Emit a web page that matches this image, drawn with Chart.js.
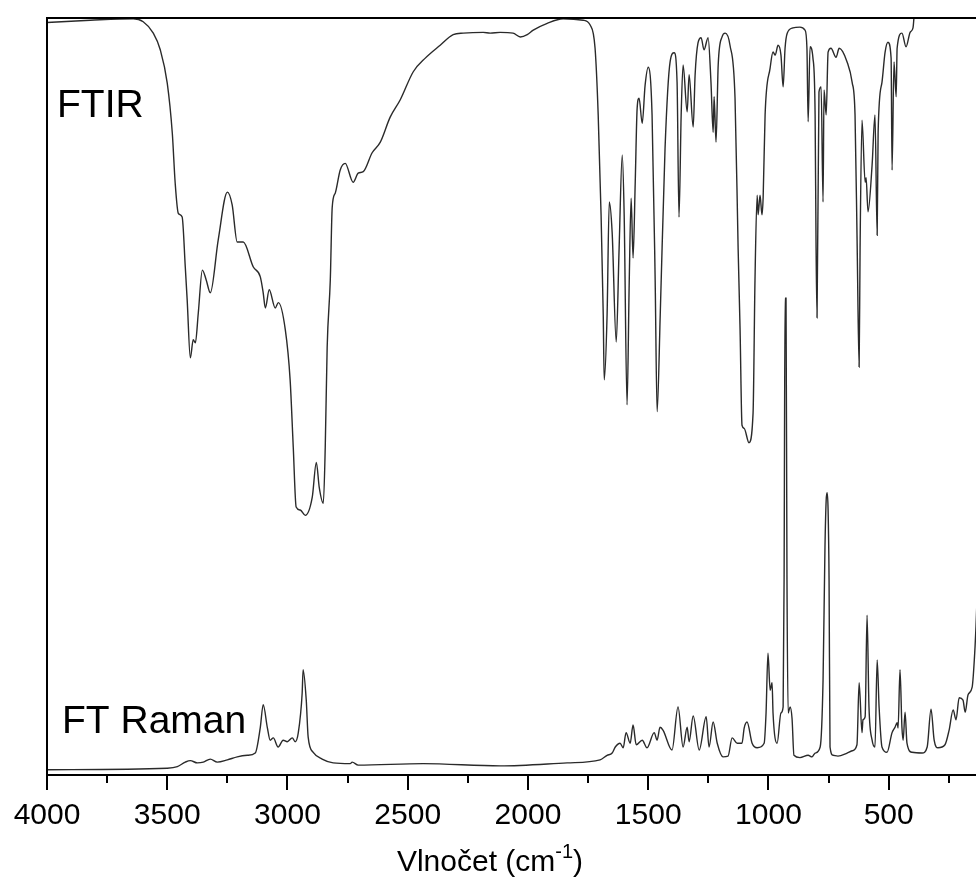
<!DOCTYPE html>
<html>
<head>
<meta charset="utf-8">
<style>
    html, body { margin: 0; padding: 0; background: #fff; }
    #spectrum { display: block; }
</style>
</head>
<body>
<canvas id="spectrum" width="976" height="896"></canvas>
<script src="https://cdn.jsdelivr.net/npm/chart.js@4.4.1/dist/chart.umd.min.js"></script>
<script>
// FTIR spectrum (wavenumber in cm-1, relative transmittance 0-100)
const ftirWavenumber = [
    4000, 3820, 3641, 3600, 3558, 3529, 3500, 3479, 3467, 3454,
    3438, 3425, 3417, 3404, 3392, 3383, 3371, 3354, 3338, 3321,
    3288, 3250, 3230, 3209, 3184, 3142, 3113, 3101, 3092, 3076,
    3051, 3038, 3009, 2989, 2976, 2964, 2947, 2926, 2897, 2880,
    2868, 2851, 2843, 2835, 2822, 2814, 2801, 2781, 2760, 2727,
    2706, 2685, 2648, 2614, 2573, 2531, 2477, 2427, 2365, 2311,
    2269, 2186, 2157, 2116, 2062, 2032, 2003, 1978, 1920, 1854,
    1770, 1742, 1721, 1708, 1696, 1687, 1683, 1671, 1662, 1650,
    1633, 1621, 1608, 1600, 1588, 1579, 1571, 1563, 1554, 1546,
    1538, 1525, 1513, 1500, 1484, 1471, 1463, 1450, 1430, 1409,
    1392, 1380, 1372, 1363, 1355, 1338, 1330, 1313, 1305, 1293,
    1280, 1268, 1251, 1239, 1230, 1226, 1218, 1209, 1193, 1180,
    1160, 1139, 1126, 1118, 1110, 1101, 1081, 1064, 1056, 1047,
    1043, 1035, 1027, 1022, 1014, 993, 981, 972, 960, 948,
    939, 931, 922, 898, 869, 848, 840, 835, 827, 815,
    806, 802, 798, 790, 781, 773, 769, 760, 752, 740,
    719, 706, 673, 652, 640, 631, 623, 619, 611, 598,
    594, 586, 569, 557, 548, 544, 528, 515, 503, 490,
    486, 478, 469, 465, 445, 428, 411, 399, 395
];
const ftirSignal = [
    99.4, 99.7, 99.9, 99.5, 98.0, 95.8, 91.4, 84.8, 78.2, 74.2,
    73.7, 67.1, 62.7, 55.1, 57.5, 57.1, 61.0, 66.7, 65.4, 63.7,
    70.7, 77.0, 75.3, 70.4, 70.4, 67.1, 65.8, 63.7, 61.7, 64.1,
    61.7, 62.4, 58.8, 52.2, 43.3, 35.4, 35.0, 34.3, 36.7, 41.3,
    38.0, 35.9, 43.3, 56.5, 65.4, 75.0, 76.9, 79.9, 80.8, 78.3,
    79.5, 79.7, 82.2, 83.6, 86.9, 89.2, 92.9, 94.7, 96.4, 97.8,
    98.0, 98.1, 98.0, 98.1, 98.0, 97.5, 97.8, 98.4, 99.3, 99.9,
    99.7, 99.1, 96.0, 87.2, 74.0, 60.8, 52.2, 60.8, 75.7, 71.7,
    57.2, 69.6, 81.9, 74.0, 48.9, 65.1, 76.2, 68.3, 78.3, 88.1,
    89.4, 86.1, 91.1, 93.5, 87.2, 65.1, 48.0, 60.8, 82.8, 94.2,
    95.4, 91.5, 73.7, 87.2, 93.8, 87.6, 92.5, 85.6, 92.5, 96.7,
    97.4, 95.8, 97.4, 91.5, 84.9, 89.6, 83.6, 93.8, 97.5, 98.0,
    96.4, 89.4, 69.4, 58.8, 46.2, 45.8, 43.9, 47.8, 65.4, 76.6,
    74.0, 76.6, 74.0, 76.4, 87.2, 93.4, 95.5, 95.1, 96.4, 95.1,
    90.9, 96.0, 98.0, 98.7, 98.8, 98.4, 96.0, 86.3, 96.2, 94.7,
    87.2, 69.6, 60.4, 90.2, 90.9, 75.7, 90.5, 87.2, 95.5, 96.0,
    94.8, 96.0, 94.2, 91.5, 87.2, 69.6, 53.9, 69.6, 86.5, 78.3,
    78.9, 74.4, 80.6, 87.2, 71.3, 84.9, 91.5, 95.5, 96.8, 94.7,
    79.9, 94.2, 89.6, 96.0, 98.0, 96.2, 98.1, 98.7, 100
];

// FT Raman spectrum (same wavenumber axis, relative intensity)
const ramanWavenumber = [
    4000, 3500, 3458, 3425, 3404, 3375, 3350, 3321, 3292, 3250,
    3209, 3167, 3134, 3113, 3101, 3084, 3072, 3059, 3039, 3018,
    3001, 2980, 2968, 2955, 2939, 2935, 2922, 2914, 2893, 2856,
    2810, 2739, 2731, 2706, 2436, 2116, 1837, 1700, 1671, 1650,
    1637, 1617, 1604, 1592, 1575, 1563, 1550, 1525, 1505, 1475,
    1463, 1451, 1438, 1401, 1376, 1355, 1338, 1330, 1313, 1288,
    1259, 1247, 1230, 1213, 1189, 1168, 1151, 1130, 1110, 1101,
    1089, 1068, 1047, 1018, 1010, 1002, 993, 985, 981, 964,
    948, 939, 935, 931, 927, 923, 918, 910, 902, 894,
    869, 835, 819, 806, 785, 773, 765, 760, 756, 752,
    748, 744, 731, 711, 673, 652, 632, 623, 611, 607,
    598, 590, 582, 569, 557, 548, 540, 528, 507, 486,
    474, 465, 461, 453, 445, 440, 432, 424, 403, 361,
    340, 324, 311, 295, 266, 249, 232, 220, 207, 191,
    182, 170, 153, 141, 137, 125
];
const ramanSignal = [
    0.7, 0.9, 1.1, 1.7, 1.9, 1.6, 1.7, 2.1, 1.7, 2.0,
    2.4, 2.6, 2.9, 6.3, 9.3, 6.3, 4.6, 4.9, 3.7, 4.6,
    4.4, 4.9, 4.4, 5.6, 10.8, 13.9, 9.9, 5.0, 3.0, 2.1,
    1.6, 1.5, 1.7, 1.3, 1.5, 1.2, 1.6, 2.0, 2.6, 2.9,
    3.7, 4.2, 3.6, 5.6, 4.2, 6.6, 4.0, 4.6, 3.6, 5.6,
    4.6, 6.3, 5.9, 3.3, 9.0, 3.7, 6.3, 4.4, 7.8, 3.3,
    7.7, 3.7, 7.0, 4.2, 2.4, 2.5, 4.9, 4.2, 4.2, 6.2,
    7.0, 4.2, 3.6, 4.2, 8.2, 16.1, 11.2, 12.2, 8.2, 4.2,
    8.2, 9.0, 25.8, 63.0, 63.0, 25.8, 8.2, 9.0, 7.5, 2.6,
    2.3, 2.6, 2.4, 2.9, 3.7, 12.5, 30.1, 36.3, 37.3, 35.0,
    25.8, 3.7, 2.6, 2.5, 2.9, 3.2, 4.0, 12.2, 5.6, 7.3,
    7.7, 21.1, 9.0, 4.6, 3.7, 15.2, 9.0, 3.7, 3.0, 5.6,
    6.3, 6.9, 6.2, 13.9, 6.3, 4.6, 8.3, 4.2, 3.0, 2.9,
    3.7, 8.7, 4.6, 3.6, 4.0, 5.9, 8.6, 7.3, 10.2, 9.9,
    8.3, 10.6, 11.6, 16.9, 19.6, 30
];

const majorTicks = [4000, 3500, 3000, 2500, 2000, 1500, 1000, 500];
const minorTicks = [3750, 3250, 2750, 2250, 1750, 1250, 750, 250];

const FONT = '"Liberation Sans", Arial, sans-serif';

function toPoints(xs, ys) {
    return xs.map((x, i) => ({ x: x, y: ys[i] }));
}

// frame, minor ticks, spectrum names and the axis title
const decorations = {
    id: 'decorations',
    afterDraw(chart) {
        const ctx = chart.ctx;
        const area = chart.chartArea;
        const xs = chart.scales.x;
        ctx.save();
        ctx.strokeStyle = '#000';
        ctx.lineWidth = 2;
        ctx.beginPath();
        ctx.moveTo(area.left, area.bottom);
        ctx.lineTo(area.left, area.top);
        ctx.lineTo(area.right, area.top);
        ctx.stroke();

        ctx.beginPath();
        minorTicks.forEach(v => {
            const px = Math.round(xs.getPixelForValue(v));
            ctx.moveTo(px, area.bottom);
            ctx.lineTo(px, area.bottom + 8);
        });
        ctx.stroke();

        ctx.fillStyle = '#000';
        ctx.textBaseline = 'alphabetic';
        ctx.textAlign = 'left';
        ctx.font = '39px ' + FONT;
        ctx.fillText('FTIR', area.left + 10, 117);
        ctx.fillText('FT Raman', area.left + 15, 733);

        const main = 'Vlnočet (cm';
        const sup = '-1';
        const close = ')';
        ctx.font = '30px ' + FONT;
        const wMain = ctx.measureText(main).width;
        const wClose = ctx.measureText(close).width;
        ctx.font = '20px ' + FONT;
        const wSup = ctx.measureText(sup).width;
        const total = wMain + wSup + wClose;
        let x0 = 490 - total / 2;
        const base = 871;
        ctx.font = '30px ' + FONT;
        ctx.fillText(main, x0, base);
        ctx.font = '20px ' + FONT;
        ctx.fillText(sup, x0 + wMain, base - 13);
        ctx.font = '30px ' + FONT;
        ctx.fillText(close, x0 + wMain + wSup, base);
        ctx.restore();
    }
};

const ctx = document.getElementById('spectrum').getContext('2d');
const chart = new Chart(ctx, {
    type: 'line',
    data: {
        datasets: [{
            label: 'FTIR',
            data: toPoints(ftirWavenumber, ftirSignal),
            borderColor: '#2a2a2a',
            borderWidth: 1.4,
            pointRadius: 0,
            cubicInterpolationMode: 'monotone'
        }, {
            label: 'FT Raman',
            data: toPoints(ramanWavenumber, ramanSignal),
            borderColor: '#2a2a2a',
            borderWidth: 1.4,
            pointRadius: 0,
            cubicInterpolationMode: 'monotone'
        }]
    },
    options: {
        responsive: false,
        animation: false,
        devicePixelRatio: 1,
        layout: { padding: { left: 47, top: 18, right: 0, bottom: 0 } },
        plugins: {
            legend: { display: false },
            tooltip: { enabled: false }
        },
        scales: {
            x: {
                type: 'linear',
                reverse: true,
                min: 137,
                max: 4000,
                afterBuildTicks(scale) {
                    scale.ticks = majorTicks.map(v => ({ value: v }));
                },
                afterFit(scale) {
                    scale.height = 121;
                },
                ticks: {
                    color: '#000',
                    font: { family: FONT, size: 30 },
                    padding: 8,
                    maxRotation: 0,
                    autoSkip: false,
                    callback: v => String(v)
                },
                grid: {
                    drawOnChartArea: false,
                    tickLength: 15,
                    lineWidth: 2,
                    color: '#000'
                },
                border: { display: true, color: '#000', width: 2 }
            },
            y: {
                display: false,
                min: 0,
                max: 100
            }
        }
    },
    plugins: [decorations]
});
</script>
</body>
</html>
